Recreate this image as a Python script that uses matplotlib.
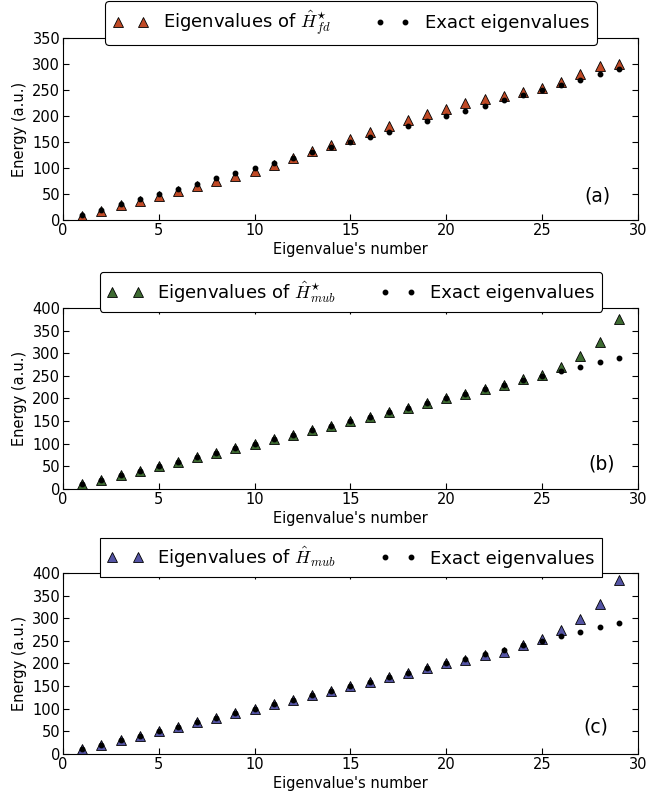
import matplotlib
matplotlib.use("Agg")
import matplotlib.pyplot as plt
import numpy as np

plt.rcParams['font.family'] = 'DejaVu Sans'
plt.rcParams['mathtext.fontset'] = 'cm'

# eigenvalue index
n = np.arange(1, 30)

# exact eigenvalues
exact = [10, 20, 30, 40, 50, 60, 70, 80, 90, 100, 110, 120, 130, 140, 150,
         160, 170, 180, 190, 200, 210, 220, 230, 240, 250, 260, 270, 280, 290]

# (a) H*_fd
e_fd_star = [8, 18, 28, 37, 46, 56, 65, 75, 85, 95, 106, 119, 132, 144, 156,
             169, 181, 193, 204, 214, 224, 232, 239, 246, 254, 265, 280, 296, 300]

# (b) H*_mub
e_mub_star = [10, 20, 30, 40, 50, 60, 70, 80, 90, 100, 110, 120, 130, 140, 150,
              160, 170, 180, 190, 200, 210, 220, 230, 242, 252, 270, 295, 325, 375]

# (c) H_mub
e_mub = [10, 20, 30, 40, 50, 60, 70, 80, 90, 100, 110, 120, 130, 140, 150,
         160, 170, 180, 190, 200, 207, 218, 226, 240, 255, 274, 298, 331, 384]

panels = [
    (e_fd_star, r'Eigenvalues of $\hat{H}^{\star}_{fd}$', '#c04a26', '(a)', 350, True),
    (e_mub_star, r'Eigenvalues of $\hat{H}^{\star}_{mub}$', '#3e6b32', '(b)', 400, True),
    (e_mub, r'Eigenvalues of $\hat{H}_{mub}$', '#5454a4', '(c)', 400, False),
]

fig = plt.figure(figsize=(6.51, 7.95), dpi=100)

# axes rectangles [left, bottom, width, height] in figure fraction
rects = [
    [0.0968, 0.7233, 0.883, 0.2290],
    [0.0968, 0.3849, 0.883, 0.2277],
    [0.0968, 0.0516, 0.883, 0.2277],
]
legend_y = [0.971, 0.633, 0.299]
label_pos = [(0.929, 0.13), (0.937, 0.14), (0.927, 0.15)]

for i, (vals, lab, col, tag, ymax, fancy) in enumerate(panels):
    ax = fig.add_axes(rects[i])
    ax.plot(n, vals, linestyle='none', marker='^', markersize=6.5,
            markerfacecolor=col, markeredgecolor='black', markeredgewidth=0.6,
            label=lab, zorder=2)
    ax.plot(n, exact, linestyle='none', marker='o', markersize=3.2,
            color='black', label='Exact eigenvalues', zorder=3)
    ax.set_xlim(0, 30)
    ax.set_ylim(0, ymax)
    ax.set_xticks(np.arange(0, 31, 5))
    ax.set_yticks(np.arange(0, ymax + 1, 50))
    ax.tick_params(direction='in', top=True, right=True, labelsize=10.5,
                   length=4, pad=2)
    ax.set_xlabel("Eigenvalue's number", fontsize=10.5, labelpad=3)
    ax.set_ylabel('Energy (a.u.)', fontsize=10.5)
    ax.text(label_pos[i][0], label_pos[i][1], tag, transform=ax.transAxes,
            ha='center', va='center', fontsize=13.5)
    leg = ax.legend(loc='center', bbox_to_anchor=(0.539, legend_y[i]),
                    bbox_transform=fig.transFigure, ncol=2, numpoints=2,
                    fontsize=13, fancybox=fancy, framealpha=1,
                    edgecolor='black', columnspacing=2.4)
    leg.get_frame().set_linewidth(0.8)
    leg.set_zorder(5)

fig.savefig('out.png', dpi=100)
